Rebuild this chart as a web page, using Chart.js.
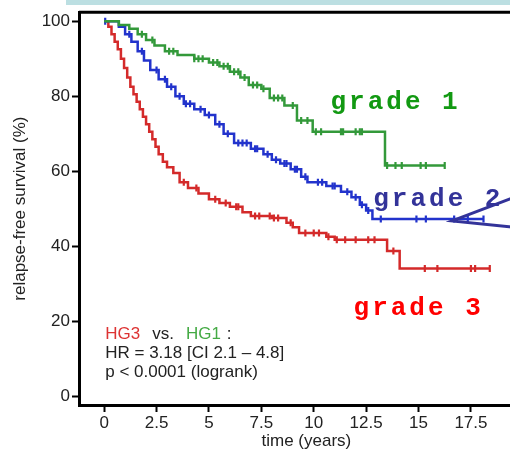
<!DOCTYPE html>
<html>
<head>
<meta charset="utf-8">
<script src="https://cdn.jsdelivr.net/npm/chart.js@4"></script>
<style>
  html, body { margin: 0; padding: 0; background: #fff; overflow: hidden; }
  #wrap { position: relative; width: 540px; height: 452px; }
  #band { position: absolute; left: 66px; top: 0; width: 474px; height: 5px; background: #bcdfe2; }
</style>
</head>
<body>
<div id="wrap"><canvas id="km" width="540" height="452"></canvas><div id="band"></div></div>
<script>
const xTicks = [0, 2.5, 5, 7.5, 10, 12.5, 15, 17.5, 20];
const yTicks = [0, 20, 40, 60, 80, 100];

// grade 1 (HG1)
const g1Times = [0, 0.7, 1.2, 1.6, 2.0, 2.4, 2.9, 3.5, 4.3, 5.0, 5.5, 6.0, 6.5, 6.9, 7.5, 7.9, 8.6, 9.2, 9.95, 13.4];
const g1Surv = [100, 99, 98, 96.5, 95, 93.5, 92, 91, 90, 89, 88, 86.5, 85, 83, 82, 79.5, 77.5, 73.5, 70.5, 61.5];
const g1Censor = [1.8, 2.3, 3.1, 3.3, 4.3, 4.5, 4.7, 5.2, 5.4, 5.7, 5.9, 6.2, 6.4, 6.7, 7.1, 7.3, 7.6, 8.1, 8.3, 8.5, 9.0, 9.4, 9.7, 10.1, 10.35, 11.3, 11.4, 12.0, 12.2, 12.3, 13.5, 13.9, 14.2, 15.1, 15.35, 16.25];

// grade 2 (HG2)
const g2Times = [0, 0.7, 1.0, 1.3, 1.6, 1.9, 2.2, 2.6, 3.0, 3.4, 3.8, 4.3, 4.8, 5.3, 5.7, 6.2, 7.0, 7.6, 8.0, 8.4, 8.9, 9.4, 9.7, 10.6, 11.3, 11.8, 12.2, 12.5, 12.8];
const g2Surv = [100, 98.5, 96.5, 94.5, 92, 89.5, 87, 84.5, 82.5, 80, 78, 76.5, 75, 72.5, 70, 67.5, 66, 64.5, 63, 62, 60.5, 58.5, 57, 56, 54.5, 53, 51, 49.5, 47.2];
const g2Censor = [0.05, 1.2, 1.8, 2.5, 2.9, 3.2, 3.6, 3.9, 4.1, 4.6, 5.0, 5.5, 5.9, 6.4, 6.6, 6.8, 7.2, 7.3, 7.8, 8.2, 8.6, 8.7, 9.1, 9.2, 9.6, 10.2, 10.4, 10.9, 11.0, 11.6, 12.0, 12.3, 12.6, 13.2, 14.9, 15.35, 16.7, 17.35, 18.1];

// grade 3 (HG3)
const g3Times = [0, 0.2, 0.35, 0.5, 0.65, 0.8, 0.95, 1.1, 1.25, 1.4, 1.55, 1.7, 1.85, 2.0, 2.15, 2.3, 2.45, 2.6, 2.8, 3.0, 3.3, 3.6, 4.0, 4.5, 5.0, 5.5, 6.0, 6.6, 7.0, 8.0, 8.7, 9.0, 9.3, 10.6, 11.0, 13.5, 14.1];
const g3Surv = [100, 98.5, 96.5, 94.5, 92.5, 90, 87.5, 85, 82.5, 80.5, 78.5, 76.5, 74.5, 72.5, 70.5, 68.5, 66.5, 64.5, 62.5, 61, 59.5, 57, 55.5, 54, 52.5, 51.5, 50.5, 49, 48, 47.5, 46.2, 45, 43.5, 42.5, 41.7, 38.7, 34];
const g3Censor = [3.8, 4.4, 5.3, 5.8, 6.3, 6.4, 7.2, 7.4, 7.9, 8.1, 8.3, 8.9, 9.6, 10.0, 10.25, 10.7, 11.1, 11.5, 12.0, 12.6, 12.9, 13.8, 15.3, 15.9, 17.5, 17.7, 18.4];

const green = "#33993a", blue = "#2233cc", red = "#d42a2a";

function survAt(times, surv, t) {
  let s = surv[0];
  times.forEach((tt, i) => { if (tt <= t) s = surv[i]; });
  return s;
}

function kmSets(times, surv, censor, color) {
  const pts = times.map((t, i) => ({ x: t, y: surv[i] }));
  pts.push({ x: Math.max(...censor), y: surv[surv.length - 1] });
  return [
    { data: pts, borderColor: color, borderWidth: 2.5, stepped: true, pointRadius: 0, fill: false },
    { data: censor.map(t => ({ x: t, y: survAt(times, surv, t) })), showLine: false,
      pointStyle: "line", rotation: 90, pointRadius: 3.5, pointBorderWidth: 2.2, borderColor: color, backgroundColor: color }
  ];
}

const overlay = {
  id: "overlay",
  afterDatasetsDraw(chart) {
    const { ctx, chartArea, scales: { x, y } } = chart;
    ctx.save();
    ctx.strokeStyle = "#000";
    ctx.lineWidth = 3;
    ctx.beginPath();
    ctx.moveTo(chartArea.left, chartArea.top);
    ctx.lineTo(chartArea.right, chartArea.top);
    ctx.stroke();

    // arrow wedge pointing at grade 2
    ctx.strokeStyle = "#333399";
    ctx.lineWidth = 3;
    const ax = x.getPixelForValue(16.6), ay = y.getPixelForValue(46.7);
    ctx.beginPath();
    ctx.moveTo(x.getPixelForValue(20.5), y.getPixelForValue(55));
    ctx.lineTo(ax, ay);
    ctx.lineTo(x.getPixelForValue(20.5), y.getPixelForValue(44.5));
    ctx.stroke();

    // curve labels
    ctx.font = "bold 26px 'Liberation Mono'";
    ctx.letterSpacing = "3px";
    ctx.textBaseline = "alphabetic";
    ctx.fillStyle = "#129912";
    ctx.fillText("grade 1", x.getPixelForValue(10.8), y.getPixelForValue(76.7));
    ctx.fillStyle = "#333399";
    ctx.fillText("grade 2", x.getPixelForValue(12.84), y.getPixelForValue(50.7));
    ctx.fillStyle = "#ff0000";
    ctx.fillText("grade 3", x.getPixelForValue(11.9), y.getPixelForValue(21.5));
    ctx.letterSpacing = "0px";

    // stats box
    ctx.font = "17px 'Liberation Sans'";
    const sx = x.getPixelForValue(0.05);
    let px = sx;
    const l1 = y.getPixelForValue(15.1);
    [["HG3", "#dd3333", 12], ["vs.", "#222", 12], ["HG1", "#44aa44", 6], [":", "#222", 0]].forEach(([t, c, gap]) => {
      ctx.fillStyle = c;
      ctx.fillText(t, px, l1);
      px += ctx.measureText(t).width + gap;
    });
    ctx.fillStyle = "#222";
    ctx.fillText("HR = 3.18 [CI 2.1 \u2013 4.8]", sx, y.getPixelForValue(10.1));
    ctx.fillText("p < 0.0001 (logrank)", sx, y.getPixelForValue(5.0));
    ctx.restore();
  }
};

const font = { family: "'Liberation Sans', Arial, sans-serif", size: 17 };

new Chart(document.getElementById("km"), {
  type: "line",
  data: {
    datasets: [
      ...kmSets(g1Times, g1Surv, g1Censor, green),
      ...kmSets(g2Times, g2Surv, g2Censor, blue),
      ...kmSets(g3Times, g3Surv, g3Censor, red)
    ]
  },
  options: {
    responsive: false,
    animation: false,
    layout: { padding: { left: 0, top: 10, right: 3, bottom: 0 } },
    plugins: { legend: { display: false }, tooltip: { enabled: false } },
    scales: {
      x: {
        type: "linear", min: -1.2, max: 20.5,
        afterBuildTicks: s => { s.ticks = xTicks.map(v => ({ value: v })); },
        afterFit: s => { s.height = 47; },
        ticks: { font, color: "#222", padding: 1, maxRotation: 0, autoSkip: false, callback: v => String(v) },
        grid: { drawOnChartArea: false, drawTicks: true, tickLength: 7, tickColor: "#000", tickWidth: 2 },
        border: { display: true, color: "#000", width: 3 },
        title: { display: true, text: "time (years)", font, color: "#222", padding: { top: 0, bottom: 0 } }
      },
      y: {
        type: "linear", min: -2.4, max: 102.4,
        afterBuildTicks: s => { s.ticks = yTicks.map(v => ({ value: v })); },
        afterFit: s => { s.width = 79; },
        ticks: { font, color: "#222", padding: 2 },
        grid: { drawOnChartArea: false, drawTicks: true, tickLength: 7, tickColor: "#000", tickWidth: 2 },
        border: { display: true, color: "#000", width: 3 },
        title: { display: true, text: "relapse-free survival (%)", font, color: "#222", padding: { top: 10, bottom: 0 } }
      }
    }
  },
  plugins: [overlay]
});
</script>
</body>
</html>
